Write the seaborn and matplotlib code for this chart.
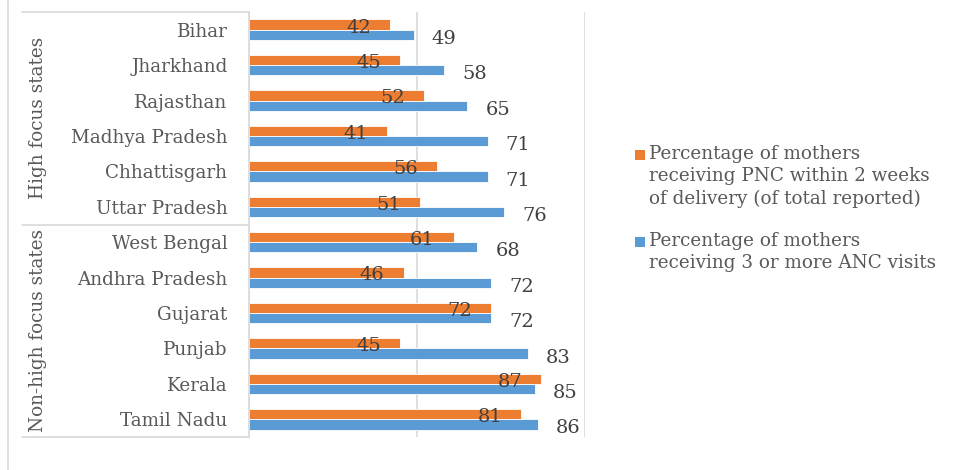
import matplotlib
matplotlib.use("Agg")
import matplotlib.pyplot as plt
from matplotlib.lines import Line2D
from matplotlib.patches import Rectangle
import pandas as pd
import seaborn as sns

states = ["Bihar", "Jharkhand", "Rajasthan", "Madhya Pradesh", "Chhattisgarh",
          "Uttar Pradesh", "West Bengal", "Andhra Pradesh", "Gujarat", "Punjab",
          "Kerala", "Tamil Nadu"]
pnc_pct = [42, 45, 52, 41, 56, 51, 61, 46, 72, 45, 87, 81]
anc_pct = [49, 58, 65, 71, 71, 76, 68, 72, 72, 83, 85, 86]
series_names = ["Percentage of mothers\nreceiving PNC within 2 weeks\nof delivery (of total reported)",
                "Percentage of mothers\nreceiving 3 or more ANC visits"]
group_names = ["High focus states", "Non-high focus states"]
group_sizes = [6, 6]

ORANGE = "#ED7D31"
BLUE = "#5B9BD5"
TEXT = "#595959"
VALUE_TEXT = "#404040"
LINE = "#D9D9D9"
FS = 13.2
VFS = 14.0

sns.set_theme(style="white")
plt.rcParams["font.family"] = ["DejaVu Serif"]

df = pd.DataFrame({
    "state": states * 2,
    "value": pnc_pct + anc_pct,
    "series": [series_names[0]] * len(states) + [series_names[1]] * len(states),
})

W, H = 963, 470
fig = plt.figure(figsize=(W / 100, H / 100), dpi=100)
ax_l, ax_r, ax_t, ax_b = 249, 585, 12, 437
ax = fig.add_axes([ax_l / W, 1 - ax_b / H, (ax_r - ax_l) / W, (ax_b - ax_t) / H])

sns.barplot(data=df, y="state", x="value", hue="series", order=states,
            hue_order=series_names, palette=[ORANGE, BLUE], orient="h",
            width=0.58, edgecolor="white", linewidth=0.6, saturation=1,
            legend=False, ax=ax)

ax.set_xlim(0, 100)
ax.set_ylim(len(states) - 0.5, -0.5)
ax.set_xticks([0, 50, 100])
ax.set_xticklabels([])
ax.grid(axis="x", color=LINE, linewidth=1.2)
ax.set_axisbelow(True)
ax.set_xlabel("")
ax.set_ylabel("")
for s in ["top", "right", "bottom"]:
    ax.spines[s].set_visible(False)
ax.spines["left"].set_color(LINE)
ax.spines["left"].set_linewidth(1.2)
ax.tick_params(axis="y", length=0, pad=15.5, labelsize=FS, labelcolor=TEXT)
ax.tick_params(axis="x", length=0)

# value labels: PNC inside the bar end, ANC just past the bar end
for bar, v in zip(ax.containers[0], pnc_pct):
    yc = bar.get_y() + bar.get_height() / 2
    ax.annotate(f"{v}", xy=(bar.get_width(), yc), xytext=(-19, -3),
                textcoords="offset pixels", ha="right", va="center",
                fontsize=VFS, color=VALUE_TEXT)
for bar, v in zip(ax.containers[1], anc_pct):
    yc = bar.get_y() + bar.get_height() / 2
    ax.annotate(f"{v}", xy=(bar.get_width(), yc), xytext=(18, -4),
                textcoords="offset pixels", ha="left", va="center",
                fontsize=VFS, color=VALUE_TEXT)

# group boxes on the category axis
x0 = 22 / W
xa = ax_l / W
def fig_y(py):
    return 1 - py / H

row_h = (ax_b - ax_t) / len(states)
bounds = [ax_t]
acc = 0
for n in group_sizes:
    acc += n
    bounds.append(ax_t + acc * row_h)
for b in bounds:
    fig.add_artist(Line2D([x0, xa], [fig_y(b), fig_y(b)], color=LINE, linewidth=1.2))
for name, top, bot in zip(group_names, bounds[:-1], bounds[1:]):
    fig.text(38 / W, fig_y((top + bot) / 2), name, rotation=90, ha="center",
             va="center", fontsize=FS, color=TEXT)

# outer frame line on the left
fig.add_artist(Line2D([8 / W, 8 / W], [0, 1], color=LINE, linewidth=1.2))

# legend
legend_rows = [(ORANGE, series_names[0], 150), (BLUE, series_names[1], 237)]
for color, label, top in legend_rows:
    fig.add_artist(Rectangle((635 / W, fig_y(top + 10)), 10 / W, 10 / H,
                             transform=fig.transFigure, facecolor=color,
                             edgecolor="none"))
    fig.text(649 / W, fig_y(top - 5), label, ha="left", va="top",
             fontsize=FS, color=TEXT, linespacing=1.3)

fig.savefig("out.png", dpi=100)
